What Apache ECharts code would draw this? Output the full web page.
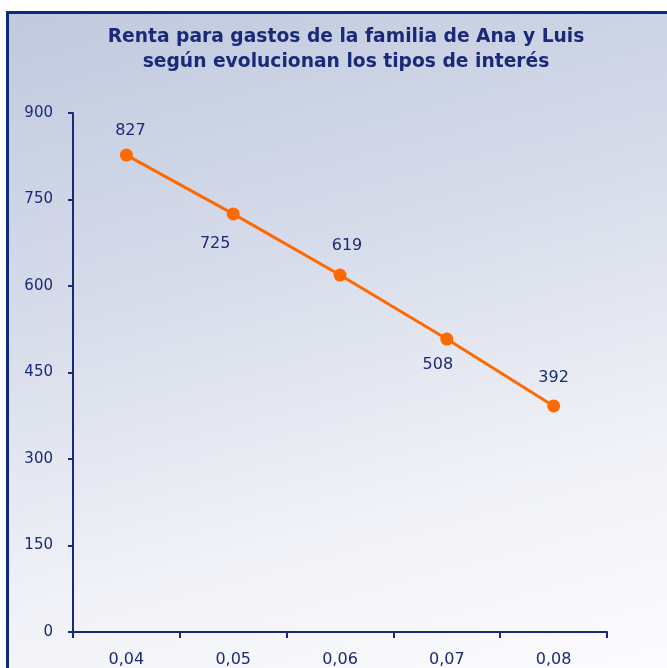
<!DOCTYPE html>
<html>

<head>
  <meta charset="utf-8">
  <script src="https://cdn.jsdelivr.net/npm/echarts@6/dist/echarts.min.js"></script>
  <style>
    body { margin: 0; background: #fff; }
    /* marco con degradado, como en el original */
    #frame {
      position: absolute; left: 6px; top: 11px; width: 661px; height: 657px;
      border-left: 3px solid #0c2a80; border-top: 3px solid #0c2a80;
      background: linear-gradient(165deg, #c0c9de 0%, #d6dcea 38%, #f1f2f7 72%, #fcfcfe 100%);
    }
    #main { position: absolute; left: 0; top: 0; width: 667px; height: 668px; }
  </style>
</head>

<body>
  <div id="frame"></div>
  <div id="main"></div>
  <script type="text/javascript">
    // datos
    var tipos = ['0,04', '0,05', '0,06', '0,07', '0,08'];
    var renta = [827, 725, 619, 508, 392];
    var yTicks = [0, 150, 300, 450, 600, 750, 900];

    // desplazamiento de cada etiqueta respecto a su punto
    var labelOffsets = [[4, -24], [-18, 30], [7, -29], [-9, 26], [0, -28]];

    var navy = '#1b2a78';
    var myChart = echarts.init(document.getElementById('main'), null, { renderer: 'canvas' });

    var option = {
      backgroundColor: 'transparent',
      title: {
        text: 'Renta para gastos de la familia de Ana y Luis\nsegún evolucionan los tipos de interés',
        left: 341,
        top: 20,
        textAlign: 'center',
        textStyle: {
          fontFamily: 'DejaVu Sans',
          fontWeight: 'bold',
          fontSize: 18.7,
          lineHeight: 25,
          color: navy
        }
      },
      grid: { left: 73, top: 113, right: 60, bottom: 36 },
      xAxis: {
        type: 'category',
        data: tipos,
        boundaryGap: true,
        axisLine: { lineStyle: { color: navy, width: 2 } },
        axisTick: { show: true, length: 6, lineStyle: { color: navy, width: 2 } },
        axisLabel: { margin: 20, fontFamily: 'DejaVu Sans', fontSize: 16, color: navy },
        splitLine: { show: false }
      },
      yAxis: {
        type: 'value',
        min: yTicks[0],
        max: yTicks[yTicks.length - 1],
        interval: 150,
        axisLine: { show: true, lineStyle: { color: navy, width: 2 } },
        axisTick: { show: true, length: 5, lineStyle: { color: navy, width: 2 } },
        axisLabel: { margin: 20, fontFamily: 'DejaVu Sans', fontSize: 15, color: navy, padding: [0, 0, 9, 0] },
        splitLine: { show: false }
      },
      series: [{
        type: 'line',
        symbol: 'circle',
        symbolSize: 13,
        itemStyle: { color: '#ff6a00' },
        lineStyle: { color: '#ff6a00', width: 3 },
        data: renta.map(function (v, i) {
          return {
            value: v,
            label: { offset: labelOffsets[i] }
          };
        }),
        label: {
          show: true,
          position: 'inside',
          fontFamily: 'DejaVu Sans',
          fontSize: 16,
          color: navy
        }
      }]
    };
    myChart.setOption(option);
  </script>
</body>

</html>
